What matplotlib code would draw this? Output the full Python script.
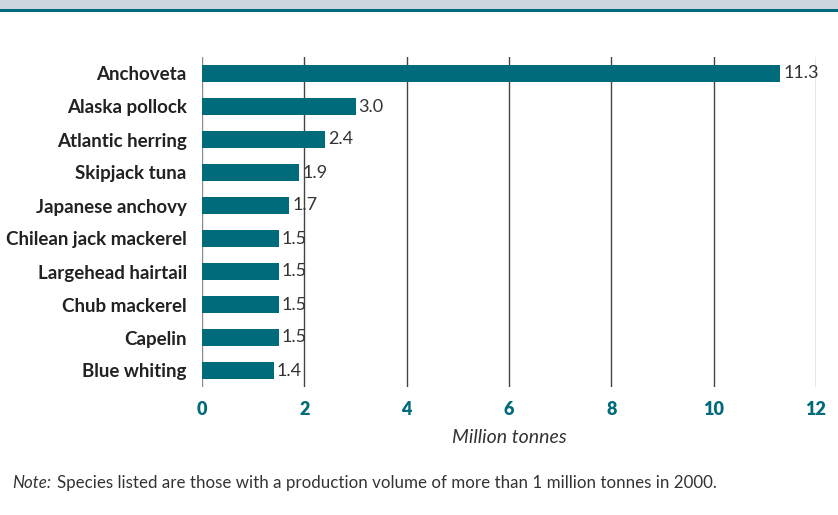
import matplotlib
matplotlib.use("Agg")
import matplotlib.pyplot as plt
from matplotlib.patches import Rectangle

species = ["Anchoveta", "Alaska pollock", "Atlantic herring", "Skipjack tuna",
           "Japanese anchovy", "Chilean jack mackerel", "Largehead hairtail",
           "Chub mackerel", "Capelin", "Blue whiting"]
volume = [11.3, 3.0, 2.4, 1.9, 1.7, 1.5, 1.5, 1.5, 1.5, 1.4]
xticks = [0, 2, 4, 6, 8, 10, 12]

TEAL = "#006b7b"
FONT = "Lato"

fig = plt.figure(figsize=(8.38, 5.15), dpi=100)

# header strip
fig.patches.append(Rectangle((0, 1 - 9 / 515), 1, 9 / 515, transform=fig.transFigure,
                             facecolor="#cbd3dc", edgecolor="none"))
fig.patches.append(Rectangle((0, 1 - 12 / 515), 1, 3.5 / 515, transform=fig.transFigure,
                             facecolor=TEAL, edgecolor="none"))

ax = fig.add_axes([202 / 838, 1 - 387 / 515, (816 - 202) / 838, (387 - 57) / 515])
y = range(len(species))
for xv in xticks:
    c = "#8a8a8a" if xv in (0, 12) else "#444444"
    ax.axvline(xv, color=c, lw=1.0, zorder=0)
ax.barh(y, volume, height=0.52, color=TEAL, zorder=2)
for yi, v in zip(y, volume):
    ax.text(v + 0.06, yi, f"{v:.1f}", va="center", ha="left", fontsize=13,
            color="#333333", family=FONT, zorder=3)

ax.set_xlim(0, 12)
ax.set_ylim(len(species) - 0.5, -0.5)
ax.set_yticks(list(y))
ax.set_yticklabels(species, fontsize=13.5, fontweight="bold", family=FONT, color="#222222")
ax.set_xticks(xticks)
ax.set_xticklabels([str(t) for t in xticks], fontsize=13, fontweight="heavy",
                   family=FONT, color=TEAL)
ax.tick_params(axis="y", length=0, pad=11)
ax.tick_params(axis="x", length=0, pad=10)
for s in ax.spines.values():
    s.set_visible(False)
ax.set_xlabel("Million tonnes", fontsize=14, style="italic", family=FONT,
              color="#333333", labelpad=8)

fig.text(12 / 838, 1 - 483 / 515, "Note:", fontsize=12.2, style="italic",
         family=FONT, color="#333333", va="center")
fig.text(57 / 838, 1 - 483 / 515,
         "Species listed are those with a production volume of more than 1 million tonnes in 2000.",
         fontsize=12.2, family=FONT, color="#333333", va="center")

fig.savefig("out.png", dpi=100)
